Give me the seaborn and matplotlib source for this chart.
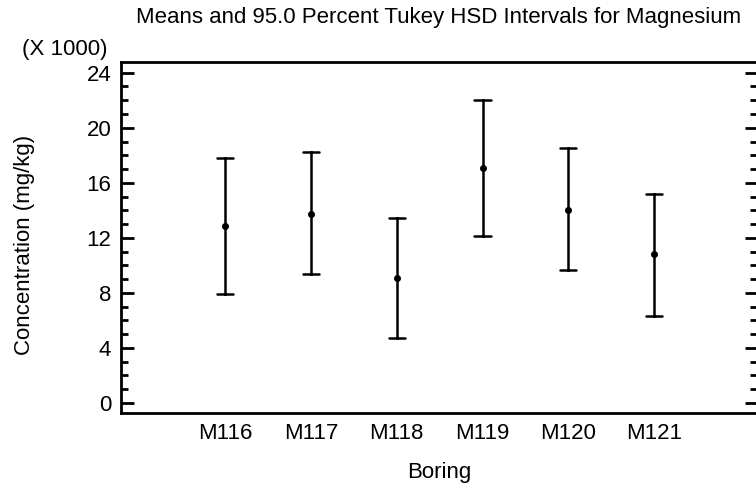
import matplotlib
matplotlib.use("Agg")
import matplotlib.pyplot as plt
from matplotlib.ticker import MultipleLocator
import seaborn as sns
import pandas as pd

categories = ["M116", "M117", "M118", "M119", "M120", "M121"]
means = [12.89, 13.74, 9.08, 17.08, 14.03, 10.85]       # x 1000 mg/kg
lower = [7.94, 9.40, 4.75, 12.16, 9.67, 6.32]
upper = [17.80, 18.26, 13.47, 22.02, 18.53, 15.19]

rows = []
for c, lo, m, hi in zip(categories, lower, means, upper):
    for v in (lo, m, hi):
        rows.append({"Boring": c, "value": v})
df = pd.DataFrame(rows)

sns.set_theme(style="white")
plt.rcParams["font.family"] = ["Liberation Sans", "DejaVu Sans"]
FS = 16

fig = plt.figure(figsize=(7.56, 4.84), dpi=100)
ax = fig.add_axes([121 / 756, (484 - 413) / 484, (757 - 121) / 756, (413 - 62) / 484])

sns.pointplot(
    data=df, x="Boring", y="value", order=categories,
    estimator="median", errorbar=lambda v: (v.min(), v.max()),
    linestyle="none", color="black", marker="o", markersize=3,
    capsize=0.19, err_kws={"linewidth": 1.8}, ax=ax,
)

ax.set_xlim(-1.215, 6.2)
ax.set_ylim(-0.73, 24.78)
ax.yaxis.set_major_locator(MultipleLocator(4))
ax.yaxis.set_minor_locator(MultipleLocator(1))

for s in ax.spines.values():
    s.set_visible(True)
    s.set_color("black")
    s.set_linewidth(2)

ax.tick_params(axis="y", which="both", direction="in", left=True, right=True,
               colors="black", labelsize=FS, pad=7, width=2)
ax.tick_params(axis="y", which="major", length=9)
ax.tick_params(axis="y", which="minor", length=5)
ax.tick_params(axis="x", which="both", bottom=False, top=False, length=0,
               labelsize=FS, pad=7.5, colors="black")

ax.set_xlabel("Boring", fontsize=FS, color="black", labelpad=13)
ax.set_ylabel("Concentration (mg/kg)", fontsize=FS, color="black")
ax.yaxis.set_label_coords(-0.135, 0.479)
ax.set_title("Means and 95.0 Percent Tukey HSD Intervals for Magnesium",
             fontsize=FS, color="black", pad=28)
fig.text(22 / 756, 1 - 49 / 484, "(X 1000)", fontsize=FS, color="black",
         ha="left", va="center")

fig.savefig("out.png", dpi=100)
